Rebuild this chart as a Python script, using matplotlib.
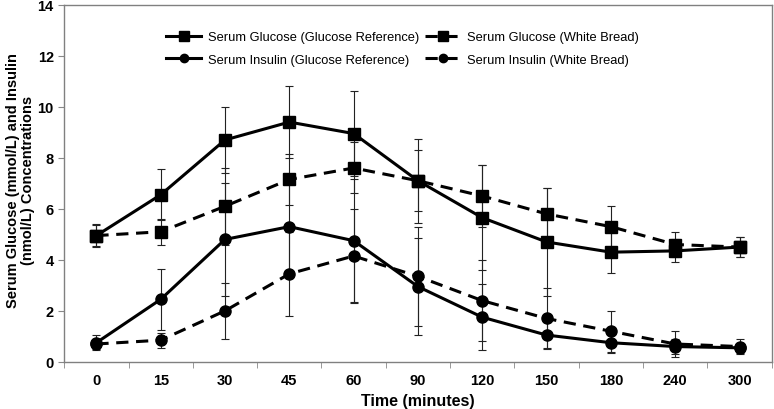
import matplotlib.pyplot as plt
import numpy as np

plt.rcParams['font.family'] = ['Liberation Sans', 'DejaVu Sans']

times = ['0', '15', '30', '45', '60', '90', '120', '150', '180', '240', '300']

glucose_ref = [4.95, 6.55, 8.7, 9.4, 8.95, 7.1, 5.65, 4.7, 4.3, 4.35, 4.5]
glucose_ref_err = [0.45, 1.0, 1.3, 1.4, 1.65, 1.65, 2.05, 2.1, 0.8, 0.45, 0.4]

glucose_wb = [4.95, 5.1, 6.1, 7.15, 7.6, 7.1, 6.5, 5.8, 5.3, 4.6, 4.5]
glucose_wb_err = [0.4, 0.5, 1.5, 1.0, 1.0, 1.2, 1.2, 1.0, 0.8, 0.5, 0.4]

insulin_ref = [0.75, 2.45, 4.8, 5.3, 4.75, 2.95, 1.75, 1.05, 0.75, 0.6, 0.55]
insulin_ref_err = [0.3, 1.2, 2.2, 2.0, 2.4, 1.9, 1.3, 0.5, 0.4, 0.3, 0.2]

insulin_wb = [0.7, 0.85, 2.0, 3.45, 4.15, 3.35, 2.4, 1.7, 1.2, 0.7, 0.6]
insulin_wb_err = [0.2, 0.3, 1.1, 1.65, 1.85, 1.95, 1.6, 1.2, 0.8, 0.5, 0.3]

x = np.arange(len(times))

fig = plt.figure(figsize=(7.74, 4.10), dpi=100)
ax = fig.add_axes([0.083, 0.115, 0.914, 0.871])

series = [
    (glucose_ref, glucose_ref_err, 's', '-', 'Serum Glucose (Glucose Reference)'),
    (glucose_wb, glucose_wb_err, 's', '--', 'Serum Glucose (White Bread)'),
    (insulin_ref, insulin_ref_err, 'o', '-', 'Serum Insulin (Glucose Reference)'),
    (insulin_wb, insulin_wb_err, 'o', '--', 'Serum Insulin (White Bread)'),
]

handles = []
for vals, err, mk, ls, lab in series:
    ax.errorbar(x, vals, yerr=err, fmt='none', ecolor='#222222',
                elinewidth=0.8, capsize=3, capthick=0.8, zorder=2)
    h, = ax.plot(x, vals, color='black', linestyle=ls, linewidth=2.2,
                 dashes=(4, 2.5) if ls == '--' else (None, None),
                 marker=mk, markersize=9 if mk == 's' else 8,
                 label=lab, zorder=3)
    handles.append(h)

ax.set_xlim(-0.5, len(times) - 0.5)
ax.set_ylim(0, 14)
ax.set_yticks(np.arange(0, 15, 2))
ax.set_xticks(x)
ax.set_xticklabels(times)
ax.set_xticks(np.arange(-0.5, len(times), 1), minor=True)
ax.tick_params(axis='x', which='major', length=0, pad=8)
ax.tick_params(axis='x', which='minor', length=4, color='#888888', direction='out')
ax.tick_params(axis='y', length=4, color='#888888', direction='out')
for lbl in ax.get_xticklabels() + ax.get_yticklabels():
    lbl.set_fontweight('bold')
    lbl.set_fontsize(10.5)

for sp in ax.spines.values():
    sp.set_color('#808080')
    sp.set_linewidth(1.0)

ax.set_xlabel('Time (minutes)', fontsize=11.5, fontweight='bold', labelpad=4)
ax.set_ylabel('Serum Glucose (mmol/L) and Insulin\n(nmol/L) Concentrations',
              fontsize=10.5, fontweight='bold', linespacing=1.1)
ax.yaxis.set_label_coords(-0.041, 0.51)

# legend fills column-wise, so order handles to get glucose in row 1
order = [0, 2, 1, 3]
leg = ax.legend(handles=[handles[i] for i in order], ncol=2, loc='upper center',
                bbox_to_anchor=(0.478, 0.958), frameon=False, fontsize=9.3,
                handlelength=2.7, columnspacing=0.5, handletextpad=0.5,
                labelspacing=0.78, markerscale=0.75)

fig.savefig('out.png', dpi=100)
